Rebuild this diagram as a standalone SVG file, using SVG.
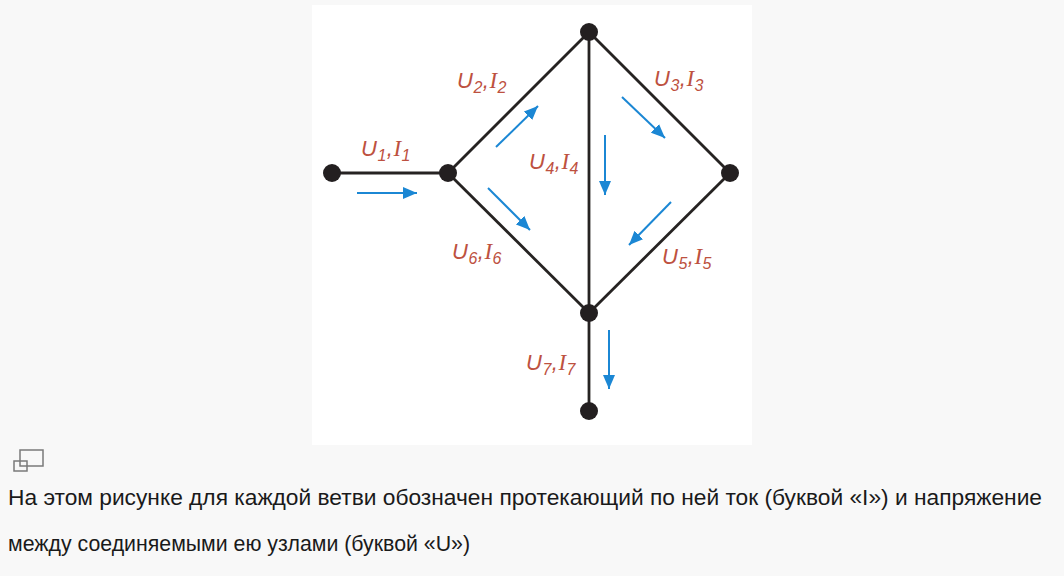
<svg xmlns="http://www.w3.org/2000/svg" width="1064" height="576" viewBox="0 0 1064 576">
<defs>
<style>
.bg{fill:#f8f8f8}
.panel{fill:#ffffff}
.edge{stroke:#262322;stroke-width:2.8;fill:none}
.node{fill:#231f20}
.cur{stroke:#1b87d4;stroke-width:2;fill:none;marker-end:url(#ah)}
.lbl{font-family:"Liberation Sans",Arial,sans-serif;font-style:italic;font-size:22px;fill:#bd5140;letter-spacing:0.5px}
.sub{font-size:16px}
.ser{font-family:"Liberation Serif","Times New Roman",serif;font-size:23px}
.cap{font-family:"Liberation Sans",Arial,sans-serif;font-size:22px;fill:#1a1a1a}
.icon{fill:none;stroke:#7a7a7a;stroke-width:1.5}
</style>
<marker id="ah" markerUnits="userSpaceOnUse" markerWidth="16" markerHeight="12" refX="14" refY="6" orient="auto">
<path d="M0,0 L14,6 L0,12 Z" fill="#1b87d4"/>
</marker>
</defs>
<rect class="bg" x="0" y="0" width="1064" height="576"/>
<rect class="panel" x="312" y="5" width="440" height="440"/>
<g id="connectors">
<line class="edge" x1="332" y1="173" x2="448" y2="173"/>
<line class="edge" x1="448" y1="173" x2="589" y2="32"/>
<line class="edge" x1="589" y1="32" x2="730" y2="173"/>
<line class="edge" x1="589" y1="32" x2="589" y2="313"/>
<line class="edge" x1="730" y1="173" x2="589" y2="313"/>
<line class="edge" x1="448" y1="173" x2="589" y2="313"/>
<line class="edge" x1="589" y1="313" x2="589" y2="411"/>
</g>
<g id="currents">
<line class="cur" x1="357" y1="193" x2="417" y2="193"/>
<line class="cur" x1="496" y1="147" x2="538" y2="106"/>
<line class="cur" x1="622" y1="97" x2="665" y2="138"/>
<line class="cur" x1="605" y1="135" x2="605" y2="195"/>
<line class="cur" x1="671" y1="202" x2="629" y2="245"/>
<line class="cur" x1="488" y1="188" x2="530" y2="230"/>
<line class="cur" x1="609" y1="330" x2="609" y2="389"/>
</g>
<g id="n1"><circle class="node" cx="332" cy="173" r="9"/></g>
<g id="n2"><circle class="node" cx="448" cy="173" r="9"/></g>
<g id="n3"><circle class="node" cx="589" cy="32" r="9"/></g>
<g id="n4"><circle class="node" cx="730" cy="173" r="9"/></g>
<g id="n5"><circle class="node" cx="589" cy="313" r="9"/></g>
<g id="n6"><circle class="node" cx="589" cy="411" r="9"/></g>
<g id="labels">
<text class="lbl" x="361" y="156">U<tspan class="sub" dy="5">1</tspan><tspan dy="-5">,</tspan><tspan class="ser">I</tspan><tspan class="sub" dy="5">1</tspan></text>
<text class="lbl" x="457" y="88">U<tspan class="sub" dy="5">2</tspan><tspan dy="-5">,</tspan><tspan class="ser">I</tspan><tspan class="sub" dy="5">2</tspan></text>
<text class="lbl" x="654" y="86">U<tspan class="sub" dy="5">3</tspan><tspan dy="-5">,</tspan><tspan class="ser">I</tspan><tspan class="sub" dy="5">3</tspan></text>
<text class="lbl" x="529" y="169">U<tspan class="sub" dy="5">4</tspan><tspan dy="-5">,</tspan><tspan class="ser">I</tspan><tspan class="sub" dy="5">4</tspan></text>
<text class="lbl" x="662" y="264">U<tspan class="sub" dy="5">5</tspan><tspan dy="-5">,</tspan><tspan class="ser">I</tspan><tspan class="sub" dy="5">5</tspan></text>
<text class="lbl" x="452" y="259">U<tspan class="sub" dy="5">6</tspan><tspan dy="-5">,</tspan><tspan class="ser">I</tspan><tspan class="sub" dy="5">6</tspan></text>
<text class="lbl" x="526" y="370">U<tspan class="sub" dy="5">7</tspan><tspan dy="-5">,</tspan><tspan class="ser">I</tspan><tspan class="sub" dy="5">7</tspan></text>
</g>
<g id="icon">
<rect class="icon" x="20" y="450" width="23" height="16"/>
<rect class="icon" x="14" y="461" width="13" height="10" fill="#f8f8f8"/>
</g>
<g id="caption">
<text class="cap" x="8" y="505" textLength="1034" lengthAdjust="spacingAndGlyphs">На этом рисунке для каждой ветви обозначен протекающий по ней ток (буквой «I») и напряжение</text>
<text class="cap" x="8" y="551" textLength="462" lengthAdjust="spacingAndGlyphs">между соединяемыми ею узлами (буквой «U»)</text>
</g>
</svg>
